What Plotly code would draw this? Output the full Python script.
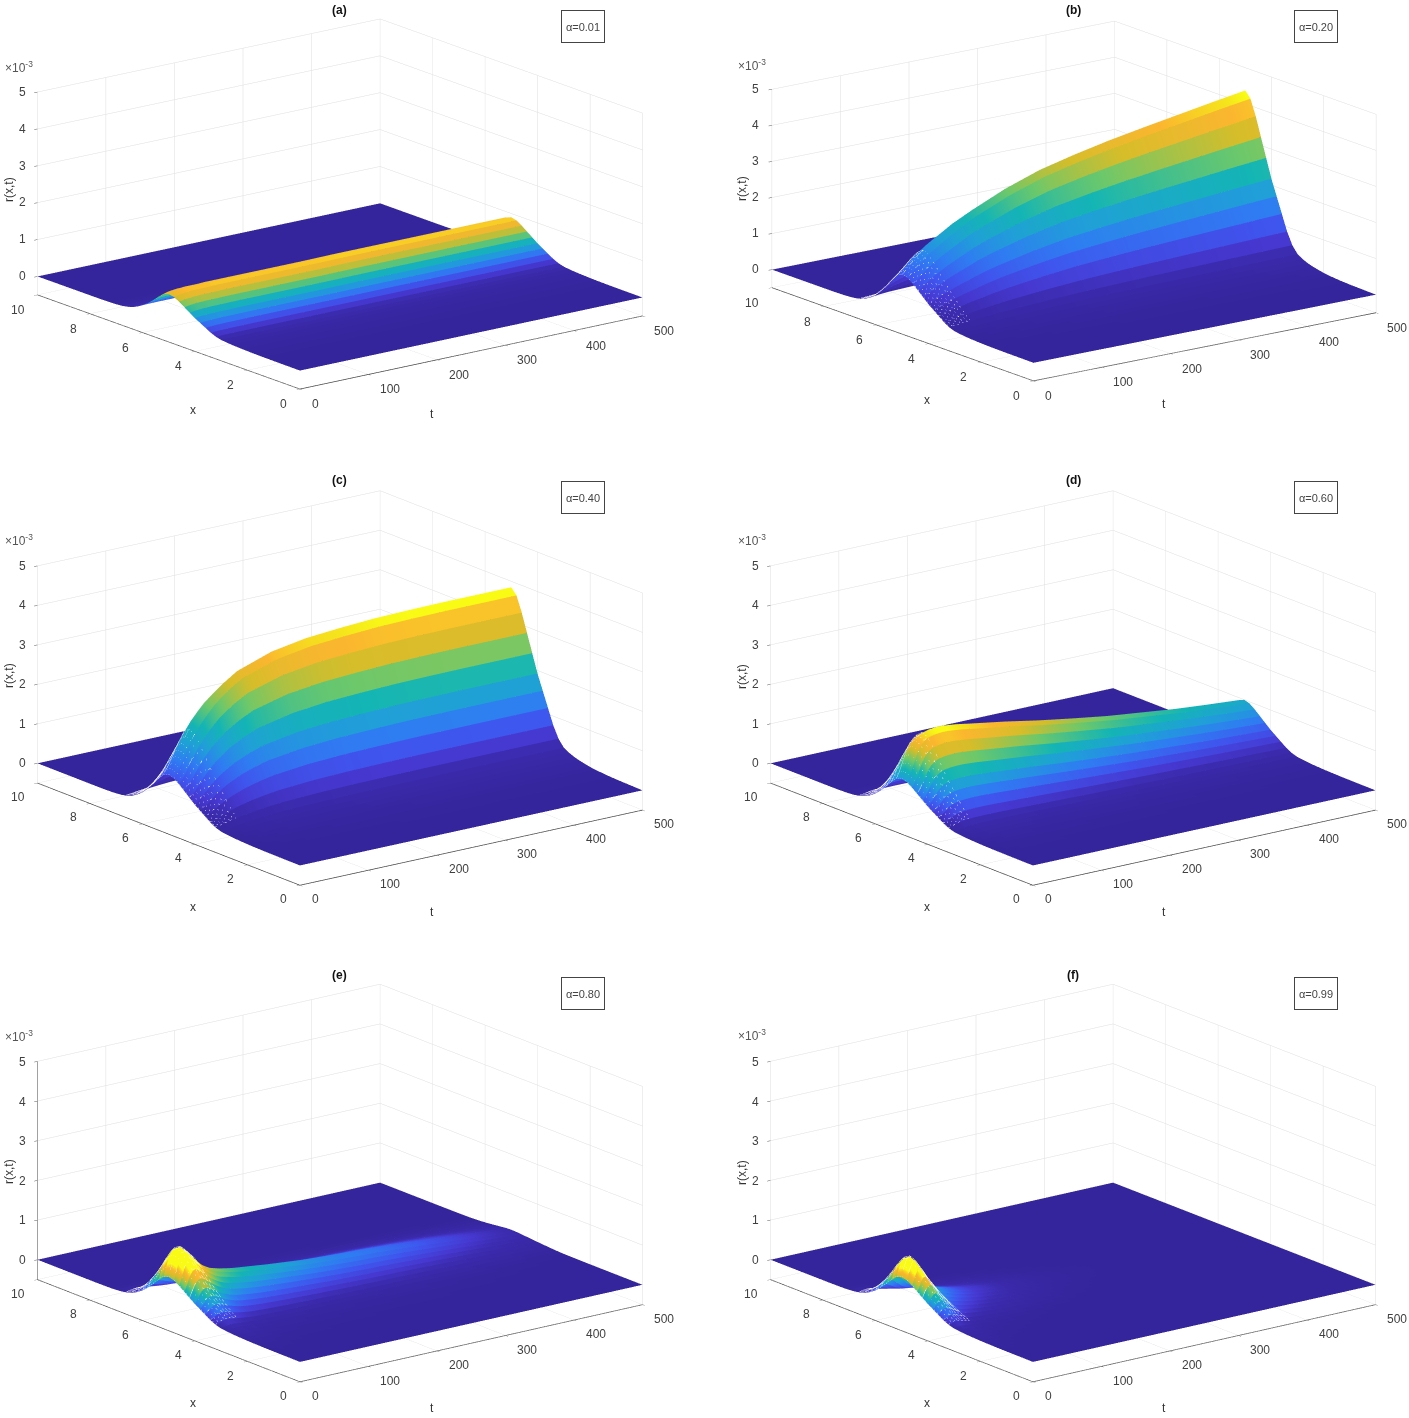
import numpy as np
import plotly.graph_objects as go

W, H = 1409, 1418
t_values = [0, 4, 8, 12, 16, 20, 25, 30, 40, 50, 60, 80, 100, 150, 200, 250, 300, 350, 400, 450, 500]
x_values = [0, .2, .4, .6, .8, 1, 1.2, 1.4, 1.6, 1.8, 2, 2.2, 2.4, 2.6, 2.8, 3, 3.2, 3.4, 3.6, 3.8, 4, 4.2, 4.4, 4.6, 4.8,
            5, 5.2, 5.4, 5.6, 5.8, 6, 6.2, 6.4, 6.6, 6.8, 7, 7.2, 7.4, 7.6, 7.8, 8, 8.2, 8.4, 8.6, 8.8, 9, 9.2, 9.4, 9.6, 9.8, 10]
x_profile = [0, .001, .002, .003, .004, .005, .007, .009, .012, .015, .02, .027, .035, .045, .06, .08, .125, .2, .3, .4, .5,
             .62, .74, .86, .96, 1, .94, .78, .6, .44, .3, .19, .11, .06, .03, .015, .007, .003, .001, 0, 0, 0, 0, 0, 0, 0, 0, 0, 0, 0, 0]

amp_a = [.80, .82, .84, .85, .86, .87, .87, .88, .88, .88, .89, .89, .89, .89, .89, .90, .90, .90, .90, .90, .90]
amp_b = [1.15, 1.23, 1.31, 1.39, 1.47, 1.55, 1.63, 1.7, 1.85, 1.98, 2.1, 2.35, 2.55, 2.97, 3.3, 3.53, 3.73, 3.9, 4.06, 4.22, 4.37]
amp_c = [1.0, 1.12, 1.24, 1.4, 1.55, 1.7, 1.87, 2.03, 2.3, 2.52, 2.72, 3.02, 3.25, 3.55, 3.7, 3.77, 3.82, 3.84, 3.85, 3.85, 3.85]
amp_d = [.9, 1.05, 1.25, 1.45, 1.65, 1.78, 1.88, 1.95, 2.0, 2.02, 2.02, 1.98, 1.92, 1.78, 1.62, 1.48, 1.35, 1.25, 1.15, 1.07, 1.0]
amp_e = [.85, 1.1, 1.35, 1.5, 1.55, 1.5, 1.4, 1.3, 1.1, .95, .85, .75, .68, .57, .48, .42, .38, .32, .25, .17, .1]
amp_f = [.85, 1.1, 1.28, 1.32, 1.2, 1.05, .9, .72, .5, .42, .35, .25, .18, .08, .03, .012, .005, .002, 0, 0, 0]

panel_titles = ["(a)", "(b)", "(c)", "(d)", "(e)", "(f)"]
alpha_labels = ["α=0.01", "α=0.20", "α=0.40", "α=0.60", "α=0.80", "α=0.99"]
amps = [amp_a, amp_b, amp_c, amp_d, amp_e, amp_f]
color_top = [1.06, 1, 1, 1, .75, .8]
mesh_panels = [False, True, True, True, True, True]
t_ticks = [0, 100, 200, 300, 400, 500]
x_ticks = [0, 2, 4, 6, 8, 10]
z_ticks = [0, 1, 2, 3, 4, 5]

parula = [[0, "#35259c"], [.1, "#3c2cb0"], [.16, "#4638d0"], [.25, "#3f55ee"], [.35, "#2f7cf2"], [.45, "#209fd8"],
          [.56, "#14b5b5"], [.68, "#6cc86b"], [.80, "#d6bd2a"], [.91, "#fbb62f"], [.98, "#f5e51c"], [1, "#f9fb15"]]

# screen geometry of each panel, pixels
origin = [(300, 370), (1033, 362), (300, 865), (1033, 865), (300, 1362), (1033, 1362)]
t_vec = [(342, -73), (342, -68), (342, -75), (342, -75), (342, -77), (342, -77)]
x_vec = [(-262, -94), (-261, -93), (-262, -102), (-262, -102), (-262, -102), (-262, -102)]
z_len = [184, 180, 197, 197, 198, 198]
title_xy = [(339, 10), (1073, 10), (339, 480), (1073, 480), (339, 975), (1073, 975)]
box_xy = [(583, 27), (1316, 27), (583, 497), (1316, 497), (583, 993), (1316, 993)]
exp_xy = [(19, 67), (752, 65), (19, 540), (752, 540), (19, 1036), (752, 1035)]
xlab_xy = [(193, 410), (927, 400), (193, 907), (927, 907), (193, 1403), (927, 1403)]
tlab_xy = [(432, 414), (1164, 404), (432, 912), (1164, 912), (432, 1408), (1164, 1408)]
rlab_xy = [(9, 190), (742, 188), (9, 676), (742, 676), (9, 1172), (742, 1172)]

HALF_H, HALF_W, SCALE_K, EYE_R = 200, 330, 199.6, 3.0
Z_FLOOR = -0.5
MESH_LIFT = 2e-5

fig = go.Figure()
x_arr = np.array(x_values)
p_arr = np.array(x_profile)
t_arr = np.array(t_values, float)
x_dup = np.repeat(x_arr, 2)[1:-1].copy()
x_dup[1::2] += 0.002
mesh_t = [i for i, v in enumerate(t_values) if v <= 30]
mesh_x = [i for i, v in enumerate(x_values) if 3.2 <= v <= 6.6]

layout = {}
annotations = []
tick_font = dict(family="Liberation Sans", size=12, color="#404040")


def px(v):
    return v / W


def py(v):
    return 1 - v / H


for k in range(6):
    amp = np.array(amps[k]) * 1e-3
    z_rows = np.outer(p_arr, amp)
    z_dup = np.repeat(z_rows, 2, axis=0)[1:-1]
    strip = (z_rows[:-1] + z_rows[1:]) / 2
    c_dup = np.repeat(strip, 2, axis=0)
    name = f"scene{k + 1}" if k else "scene"
    fig.add_trace(go.Surface(x=t_arr, y=x_dup, z=z_dup, surfacecolor=c_dup, colorscale=parula,
                             cmin=0, cmax=float(strip.max()) * color_top[k], showscale=False, hoverinfo="skip",
                             lighting=dict(ambient=1, diffuse=0, specular=0, fresnel=0, roughness=1),
                             scene=name))
    if mesh_panels[k]:
        lx, ly, lz = [], [], []
        for i in mesh_t:
            for j in mesh_x:
                lx.append(t_values[i]); ly.append(x_values[j]); lz.append(z_rows[j, i] + MESH_LIFT)
            lx.append(None); ly.append(None); lz.append(None)
        for j in mesh_x:
            for i in mesh_t:
                lx.append(t_values[i]); ly.append(x_values[j]); lz.append(z_rows[j, i] + MESH_LIFT)
            lx.append(None); ly.append(None); lz.append(None)
        fig.add_trace(go.Scatter3d(x=lx, y=ly, z=lz, mode="lines", line=dict(color="white", width=1),
                                   opacity=0.7, hoverinfo="skip", showlegend=False, scene=name))

    ox, oy = origin[k]
    tv, xv, zh = t_vec[k], x_vec[k], z_len[k]
    floor_px = -Z_FLOOR / 5 * zh
    box_h = zh + floor_px
    sin_el = np.sqrt((-tv[1] / tv[0]) * (-xv[1] / -xv[0]))
    cos_el = np.sqrt(1 - sin_el ** 2)
    theta = np.arctan(np.sqrt((-xv[1] / -xv[0]) / (-tv[1] / tv[0])))
    sA = tv[0] / np.sin(theta)
    sB = -xv[0] / np.cos(theta)
    sC = box_h / cos_el
    eye = (-np.cos(theta) * cos_el * EYE_R, -np.sin(theta) * cos_el * EYE_R, sin_el * EYE_R)
    cx = ox + (tv[0] + xv[0]) / 2
    cy = oy + floor_px + (tv[1] + xv[1] - box_h) / 2
    axis_common = dict(showbackground=False, gridcolor="#dedede", gridwidth=1, zeroline=False, showspikes=False,
                       ticks="outside", ticklen=4, tickcolor="#555555", title=dict(text=""), showticklabels=False)
    layout[name] = dict(
        domain=dict(x=[max(0, (cx - HALF_W) / W), min(1, (cx + HALF_W) / W)],
                    y=[max(0, 1 - (cy + HALF_H) / H), min(1, 1 - (cy - HALF_H) / H)]),
        camera=dict(projection=dict(type="orthographic"), up=dict(x=0, y=0, z=1), center=dict(x=0, y=0, z=0),
                    eye=dict(x=float(eye[0]), y=float(eye[1]), z=float(eye[2]))),
        aspectmode="manual",
        aspectratio=dict(x=float(sA / SCALE_K), y=float(sB / SCALE_K), z=float(sC / SCALE_K)),
        xaxis=dict(axis_common, range=[0, 500], tickvals=t_ticks, showline=True, linecolor="#444444", linewidth=1.5),
        yaxis=dict(axis_common, range=[0, 10], tickvals=x_ticks, showline=True, linecolor="#444444", linewidth=1.5),
        zaxis=dict(axis_common, range=[Z_FLOOR * 1e-3, 0.005], tickvals=[v * 1e-3 for v in z_ticks],
                   showline=k == 4, linecolor="#444444", linewidth=1),
    )
    for v in t_ticks:
        f = v / 500
        dx = 15 if v == 0 else 22
        annotations.append(dict(text=str(v), x=px(ox + f * tv[0] + dx), y=py(oy + f * tv[1] + 34), font=tick_font))
    for v in x_ticks:
        f = v / 10
        dx = -20 if v == 10 else -17
        annotations.append(dict(text=str(v), x=px(ox + f * xv[0] + dx), y=py(oy + f * xv[1] + 34), font=tick_font))
    for v in z_ticks:
        annotations.append(dict(text=str(v), x=px(ox + xv[0] - 16), y=py(oy + xv[1] - v / 5 * zh), font=tick_font))
    text_font = dict(family="Liberation Sans", size=12, color="#333333")
    annotations += [
        dict(text=f"<b>{panel_titles[k]}</b>", x=px(title_xy[k][0]), y=py(title_xy[k][1]),
             font=dict(family="Liberation Sans", size=12, color="#111111")),
        dict(text=alpha_labels[k], x=px(box_xy[k][0]), y=py(box_xy[k][1]),
             font=dict(family="Liberation Sans", size=11, color="#444444"),
             bordercolor="#444444", borderwidth=1, borderpad=0, bgcolor="white", width=42, height=31),
        dict(text="×10<sup>-3</sup>", x=px(exp_xy[k][0]), y=py(exp_xy[k][1]),
             font=dict(family="Liberation Sans", size=12, color="#555555")),
        dict(text="x", x=px(xlab_xy[k][0]), y=py(xlab_xy[k][1]), font=text_font),
        dict(text="t", x=px(tlab_xy[k][0]), y=py(tlab_xy[k][1]), font=text_font),
        dict(text="r(x,t)", x=px(rlab_xy[k][0]), y=py(rlab_xy[k][1]), textangle=-90, font=text_font),
    ]

for a in annotations:
    a.update(xref="paper", yref="paper", showarrow=False, xanchor="center", yanchor="middle")

fig.update_layout(width=W, height=H, margin=dict(l=0, r=0, t=0, b=0), paper_bgcolor="white",
                  showlegend=False, annotations=annotations, **layout)
fig.write_html("out.html", post_script="document.body.style.margin='0';", config=dict(displayModeBar=False))
